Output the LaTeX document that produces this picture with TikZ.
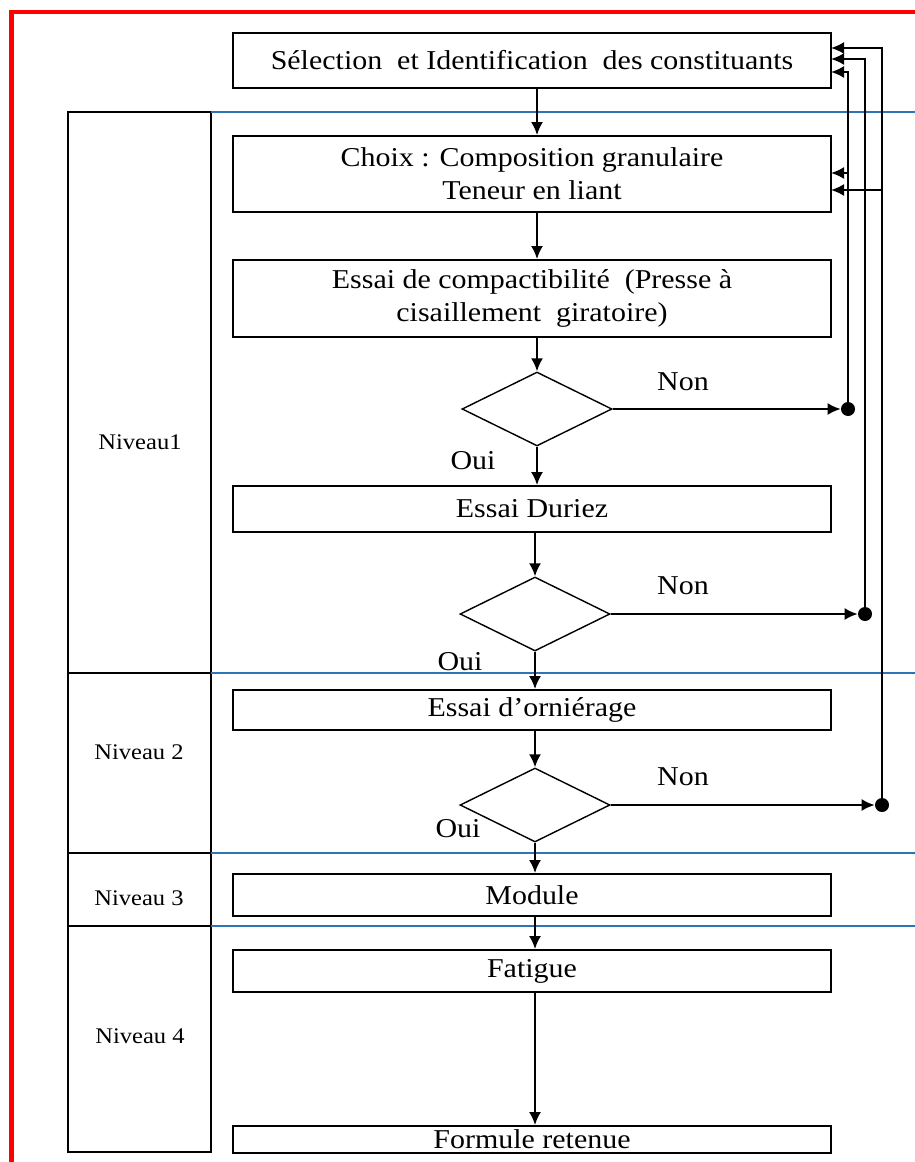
\documentclass[tikz,border=0pt]{standalone}
\usepackage{fontspec}
\setmainfont{Liberation Serif}[FakeStretch=1.1]
\usetikzlibrary{shapes.geometric,arrows.meta}
\definecolor{lineblue}{RGB}{46,117,182}
\definecolor{framered}{RGB}{255,0,0}
\tikzstyle{box} = [draw, line width=1.1pt, minimum width=11.96cm, inner sep=0pt, align=center, font=\fontsize{15.5}{18.7}\selectfont]
\tikzstyle{test} = [draw, diamond, line width=0.8pt, minimum width=3cm, minimum height=1.48cm, inner sep=0pt]
\tikzstyle{dot} = [circle, fill, inner sep=0pt, minimum size=0.28cm]
\tikzstyle{lbl} = [font=\fontsize{15.5}{18.7}\selectfont]
\tikzstyle{lvl} = [font=\fontsize{12.7}{15}\selectfont]
\tikzstyle{arr} = [line width=1.1pt, -{Latex[length=0.26cm,width=0.24cm]}]

\begin{document}
\begin{tikzpicture}[x=0.02cm, y=-0.02cm]
  \useasboundingbox (0,0) rectangle (915,1162);
  \draw [framered, line width=2.8pt] (11.5,1162) -- (11.5,12) -- (915,12);

  % levels
  \draw [line width=1.1pt] (68,112) rectangle (211,1152);
  \draw [line width=1.1pt] (68,673) -- (211,673);
  \draw [line width=1.1pt] (68,853) -- (211,853);
  \draw [line width=1.1pt] (68,926) -- (211,926);
  \draw [lineblue, line width=1pt] (211,112) -- (915,112);
  \draw [lineblue, line width=1pt] (211,673) -- (915,673);
  \draw [lineblue, line width=1pt] (211,853) -- (915,853);
  \draw [lineblue, line width=1pt] (211,926) -- (915,926);
  \node (v1) at (140,442) [lvl] {Niveau1};
  \node (v2) at (139,752) [lvl] {Niveau 2};
  \node (v3) at (139,898) [lvl] {Niveau 3};
  \node (v4) at (140,1036) [lvl] {Niveau 4};

  % main column
  \node (sel) at (532,60.5) [box, minimum height=1.1cm] {Sélection\ \ et Identification\ \ des constituants};
  \node (choix) at (532,174) [box, minimum height=1.52cm] {Choix : Composition granulaire\\Teneur en liant};
  \node (comp) at (532,298.5) [box, minimum height=1.54cm] {Essai de compactibilité\ \ (Presse à\\cisaillement\ \ giratoire)};
  \node (q1) at (537,409) [test] {};
  \node (duriez) at (532,509) [box, minimum height=0.92cm] {Essai Duriez};
  \node (q2) at (535,614) [test] {};
  \node (orn) at (532,710) [box, minimum height=0.8cm] {Essai d’orniérage};
  \node (q3) at (535,805) [test] {};
  \node (mod) at (532,895) [box, minimum height=0.84cm] {Module};
  \node (fat) at (532,971) [box, minimum height=0.84cm] {Fatigue};
  \node (form) at (532,1139.5) [box, minimum height=0.54cm] {Formule retenue};

  \node (o1) at (473,461) [lbl] {Oui};
  \node (o2) at (460,662) [lbl] {Oui};
  \node (o3) at (458,829) [lbl] {Oui};
  \node (no1) at (683,382) [lbl] {Non};
  \node (no2) at (683,586) [lbl] {Non};
  \node (no3) at (683,777) [lbl] {Non};

  \draw [arr] (sel.south -| q1) -- (choix.north -| q1);
  \draw [arr] (choix.south -| q1) -- (comp.north -| q1);
  \draw [arr] (comp.south -| q1) -- (q1.north);
  \draw [arr] (q1.south) -- (duriez.north -| q1);
  \draw [arr] (duriez.south -| q2) -- (q2.north);
  \draw [arr] (q2.south) -- (orn.north -| q2);
  \draw [arr] (orn.south -| q3) -- (q3.north);
  \draw [arr] (q3.south) -- (mod.north -| q3);
  \draw [arr] (mod.south -| q3) -- (fat.north -| q3);
  \draw [arr] (fat.south -| q3) -- (form.north -| q3);

  % feedback
  \node (n1) at (848,409) [dot] {};
  \node (n2) at (865,614) [dot] {};
  \node (n3) at (882,805) [dot] {};
  \coordinate (e1) at (831,48);
  \coordinate (e2) at (831,59);
  \coordinate (e3) at (831,72);
  \coordinate (e4) at (831,173);
  \coordinate (e5) at (831,190);
  \draw [arr] (q1.east) -- (n1);
  \draw [arr] (q2.east) -- (n2);
  \draw [arr] (q3.east) -- (n3);
  \draw [arr] (n1) |- (e3);
  \draw [arr] (n1 |- e4) -- (e4);
  \draw [arr] (n2) |- (e2);
  \draw [arr] (n3) |- (e1);
  \draw [arr] (n3 |- e5) -- (e5);
\end{tikzpicture}
\end{document}
